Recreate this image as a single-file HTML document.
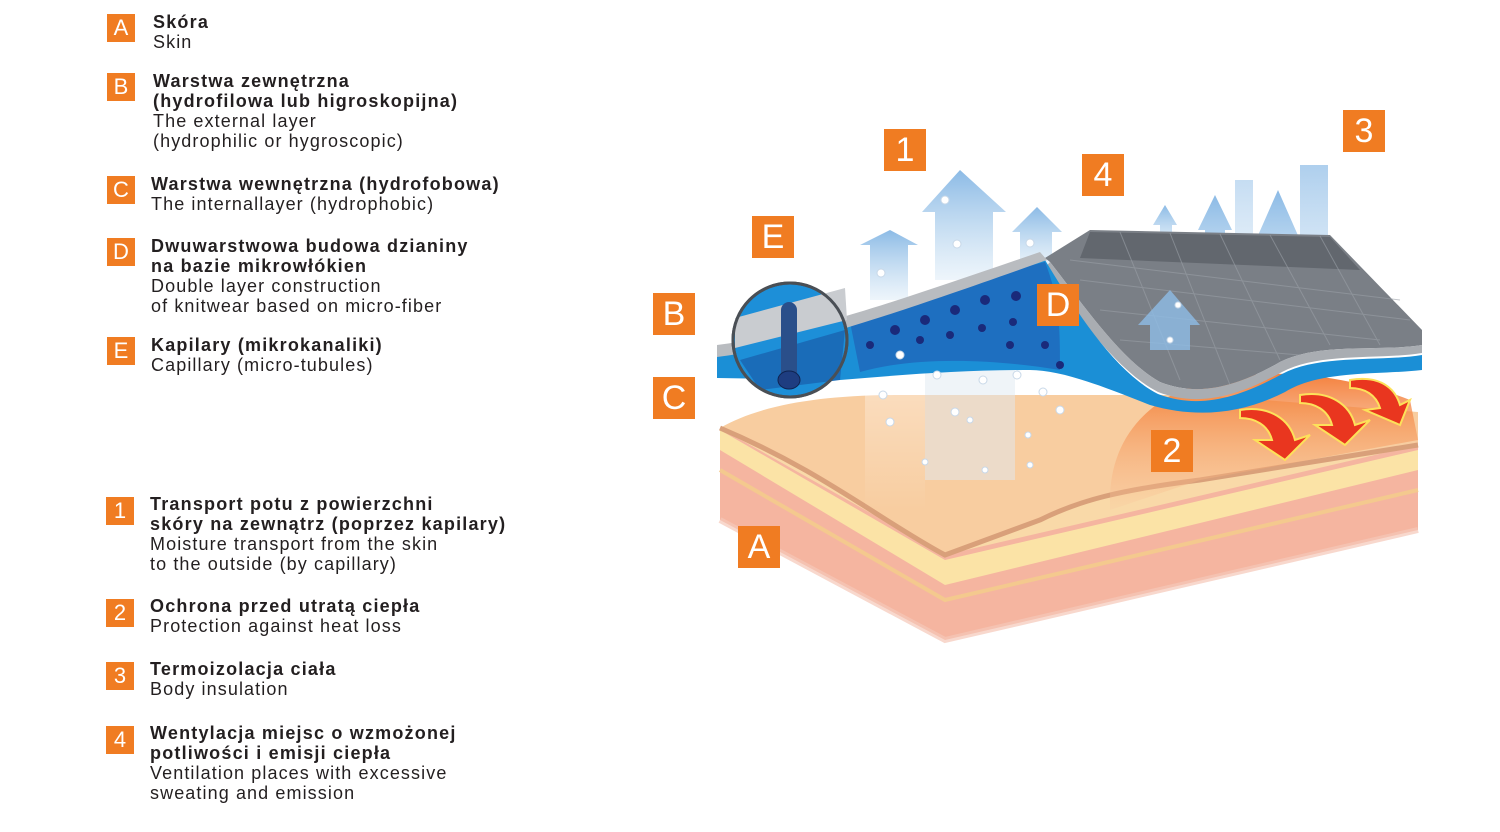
<!DOCTYPE html>
<html><head><meta charset="utf-8"><style>
body{margin:0;width:1500px;height:832px;background:#fff;position:relative;overflow:hidden;font-family:"Liberation Sans",sans-serif;color:#231f20}
.b{position:absolute;width:28px;height:28px;background:#f07c22;color:#fff;font-size:22px;line-height:28px;text-align:center}
.t{position:absolute;font-size:18px;line-height:20px;letter-spacing:1.1px;white-space:nowrap}
.t b{font-weight:bold;letter-spacing:1.2px}
.L{position:absolute;background:#f07c22;color:#fff;font-size:34px;line-height:42px;width:42px;height:42px;text-align:center}
svg{position:absolute;left:0;top:0}
</style></head><body>
<div class="b" style="left:107px;top:14px">A</div><div class="t" style="left:153px;top:12px"><b>Skóra</b><br>Skin</div>
<div class="b" style="left:107px;top:73px">B</div><div class="t" style="left:153px;top:71px"><b>Warstwa zewnętrzna<br>(hydrofilowa lub higroskopijna)</b><br>The external layer<br>(hydrophilic or hygroscopic)</div>
<div class="b" style="left:107px;top:176px">C</div><div class="t" style="left:151px;top:174px"><b>Warstwa wewnętrzna (hydrofobowa)</b><br>The internallayer (hydrophobic)</div>
<div class="b" style="left:107px;top:238px">D</div><div class="t" style="left:151px;top:236px"><b>Dwuwarstwowa budowa dzianiny<br>na bazie mikrowłókien</b><br>Double layer construction<br>of knitwear based on micro-fiber</div>
<div class="b" style="left:107px;top:337px">E</div><div class="t" style="left:151px;top:335px"><b>Kapilary (mikrokanaliki)</b><br>Capillary (micro-tubules)</div>
<div class="b" style="left:106px;top:497px">1</div><div class="t" style="left:150px;top:494px"><b>Transport potu z powierzchni<br>skóry na zewnątrz (poprzez kapilary)</b><br>Moisture transport from the skin<br>to the outside (by capillary)</div>
<div class="b" style="left:106px;top:599px">2</div><div class="t" style="left:150px;top:596px"><b>Ochrona przed utratą ciepła</b><br>Protection against heat loss</div>
<div class="b" style="left:106px;top:662px">3</div><div class="t" style="left:150px;top:659px"><b>Termoizolacja ciała</b><br>Body insulation</div>
<div class="b" style="left:106px;top:726px">4</div><div class="t" style="left:150px;top:723px"><b>Wentylacja miejsc o wzmożonej<br>potliwości i emisji ciepła</b><br>Ventilation places with excessive<br>sweating and emission</div>

<svg width="1500" height="832">
<defs>
<linearGradient id="ar" x1="0" y1="1" x2="0" y2="0"><stop offset="0" stop-color="#a9cdeb" stop-opacity="0.2"/><stop offset="1" stop-color="#7fb3e3" stop-opacity="0.9"/></linearGradient>
<linearGradient id="heat" x1="0" y1="1" x2="0" y2="0"><stop offset="0" stop-color="#f9c9a0" stop-opacity="0.3"/><stop offset="1" stop-color="#f26a1b"/></linearGradient>
<linearGradient id="fade" x1="0" y1="0" x2="0" y2="1"><stop offset="0" stop-color="#fff" stop-opacity="0.8"/><stop offset="1" stop-color="#fff" stop-opacity="0"/></linearGradient>
</defs>
<path d="M720,428 L720,520 L945,640 L1418,530 L1418,420 Z" fill="#f5b5a0"/>
<path d="M720,428 L945,555 L1418,445 L1418,420 L720,428 Z" fill="#f9d9a8"/>
<path d="M720,450 L945,585 L1418,470 L1418,450 L945,560 L720,430 Z" fill="#fbe3a6"/>
<path d="M720,428 C760,405 820,395 900,395 L1200,395 L1418,412 L1418,445 L1200,480 C1120,490 1080,500 1040,520 L945,555 C880,520 820,470 720,428 Z" fill="#f8cda0"/>
<path d="M720,428 C820,470 880,520 945,555 L1040,520 C1080,500 1120,490 1200,480 L1418,445" fill="none" stroke="#d9a07a" stroke-width="5"/>
<path d="M720,470 L945,600 L1418,490" fill="none" stroke="#f4c98e" stroke-width="4"/>
<path d="M720,520 L945,640 L1418,530" fill="none" stroke="#f5c8b8" stroke-width="6" opacity=".7"/>
<path d="M1110,500 C1110,430 1160,380 1250,375 C1300,370 1360,380 1410,400 L1418,440 L1200,480 L1110,510 Z" fill="url(#heat)" opacity=".85"/>
<g fill="#e9361f" stroke="#fde15a" stroke-width="2">
<path d="M1240,410 C1270,405 1290,420 1295,440 L1310,435 L1285,460 L1255,440 L1272,440 C1268,425 1255,418 1240,418 Z"/>
<path d="M1300,395 C1330,390 1350,405 1355,425 L1370,420 L1345,445 L1315,425 L1332,425 C1328,410 1315,403 1300,403 Z"/>
<path d="M1350,380 C1380,375 1395,388 1400,405 L1410,400 L1400,425 L1365,410 L1380,408 C1376,395 1365,388 1350,388 Z"/>
</g>
<rect x="865" y="360" width="60" height="150" fill="url(#fade)" opacity=".5"/>
<rect x="925" y="340" width="90" height="140" fill="#dfe9f2" opacity=".5"/>
<g fill="url(#ar)">
<path d="M870,300 L870,245 L860,245 L890,230 L918,245 L908,245 L908,300 Z"/>
<path d="M935,280 L935,212 L922,212 L960,170 L1006,212 L993,212 L993,280 Z"/>
<path d="M1020,270 L1020,232 L1012,232 L1037,207 L1062,232 L1052,232 L1052,270 Z"/>
<path d="M1160,250 L1160,225 L1153,225 L1165,205 L1177,225 L1172,225 L1172,250 Z"/>
<path d="M1205,320 L1205,230 L1198,230 L1215,195 L1232,230 L1225,230 L1225,320 Z"/>
<path d="M1265,330 L1265,240 L1256,240 L1278,190 L1300,240 L1290,240 L1290,330 Z"/>
<rect x="1300" y="165" width="28" height="175" opacity=".7"/>
<rect x="1235" y="180" width="18" height="140" opacity=".5"/>
</g>
<path d="M1045,258 L1090,230 L1330,235 L1422,330 L1422,345 C1380,352 1320,342 1280,362 C1240,385 1200,398 1160,382 C1120,360 1080,300 1050,262 Z" fill="#7a7f86"/>
<path d="M1090,232 L1330,237 L1360,270 L1080,258 Z" fill="#62676e"/>
<g stroke="#9aa0a7" stroke-width="1" opacity=".6">
<path d="M1070,260 L1400,300 M1080,280 L1410,320 M1100,310 L1380,340 M1120,340 L1300,355"/>
<path d="M1120,232 L1180,380 M1170,233 L1230,385 M1220,234 L1280,360 M1270,235 L1330,345 M1320,236 L1380,345"/>
</g>
<path d="M1150,350 L1150,325 L1138,325 L1170,290 L1200,325 L1190,325 L1190,350 Z" fill="#8fbde6" opacity=".8"/>
<path d="M1050,262 C1080,300 1120,360 1160,382 C1200,398 1240,385 1280,362 C1320,342 1380,352 1422,345 L1422,353 C1380,360 1320,352 1282,372 C1240,395 1200,408 1158,392 C1115,370 1075,310 1043,270 Z" fill="#a9adb2"/>
<path d="M717,355 C800,345 900,310 1045,260 C1075,310 1115,372 1158,394 C1200,410 1240,397 1282,374 C1320,354 1380,362 1422,355 L1422,370 C1380,375 1320,370 1285,392 C1240,415 1195,418 1150,405 C1100,385 1060,370 1030,370 C960,370 900,375 840,380 L717,378 Z" fill="#1b8fd6"/>
<path d="M850,322 C930,295 990,275 1045,262 C1060,300 1060,330 1060,370 C1000,360 920,355 860,372 Z" fill="#1e6fc0"/>
<path d="M717,345 C800,335 900,300 1040,252 L1047,260 C900,312 800,347 717,357 Z" fill="#b9bcc0"/>
<g fill="#1a2a7a">
<circle cx="895" cy="330" r="5"/><circle cx="925" cy="320" r="5"/><circle cx="955" cy="310" r="5"/><circle cx="985" cy="300" r="5"/><circle cx="1016" cy="296" r="5"/>
<circle cx="870" cy="345" r="4"/><circle cx="920" cy="340" r="4"/><circle cx="950" cy="335" r="4"/><circle cx="982" cy="328" r="4"/><circle cx="1013" cy="322" r="4"/><circle cx="1010" cy="345" r="4"/><circle cx="1045" cy="345" r="4"/><circle cx="1060" cy="365" r="4"/>
</g>
<g fill="#fff" stroke="#c8d8e8" stroke-width="1">
<circle cx="883" cy="395" r="4"/><circle cx="890" cy="422" r="4"/><circle cx="900" cy="355" r="4"/><circle cx="937" cy="375" r="4"/><circle cx="955" cy="412" r="4"/><circle cx="983" cy="380" r="4"/><circle cx="1017" cy="375" r="4"/><circle cx="1043" cy="392" r="4"/><circle cx="1060" cy="410" r="4"/><circle cx="1028" cy="435" r="3"/><circle cx="970" cy="420" r="3"/><circle cx="925" cy="462" r="3"/><circle cx="985" cy="470" r="3"/><circle cx="1030" cy="465" r="3"/><circle cx="945" cy="200" r="4"/><circle cx="957" cy="244" r="4"/><circle cx="881" cy="273" r="4"/><circle cx="1030" cy="243" r="4"/><circle cx="1170" cy="340" r="3"/><circle cx="1178" cy="305" r="3"/>
</g>
<circle cx="790" cy="340" r="57" fill="#1d8fd8" stroke="#4a4f55" stroke-width="3"/>
<path d="M735,318 L845,288 L847,320 L735,348 Z" fill="#c9ccd0"/>
<path d="M740,360 L845,330 L840,380 L760,390 Z" fill="#1a6cb8"/>
<rect x="781" y="302" width="16" height="78" rx="8" fill="#2a4f8a"/>
<ellipse cx="789" cy="380" rx="11" ry="9" fill="#1e3d80" stroke="#0f2350"/>
<circle cx="790" cy="340" r="57" fill="none" stroke="#4a4f55" stroke-width="3"/>
</svg>
<div class="L" style="left:884px;top:129px">1</div>
<div class="L" style="left:1082px;top:154px">4</div>
<div class="L" style="left:1343px;top:110px">3</div>
<div class="L" style="left:752px;top:216px">E</div>
<div class="L" style="left:653px;top:293px">B</div>
<div class="L" style="left:653px;top:377px">C</div>
<div class="L" style="left:1037px;top:284px">D</div>
<div class="L" style="left:1151px;top:430px">2</div>
<div class="L" style="left:738px;top:526px">A</div>
</body></html>
